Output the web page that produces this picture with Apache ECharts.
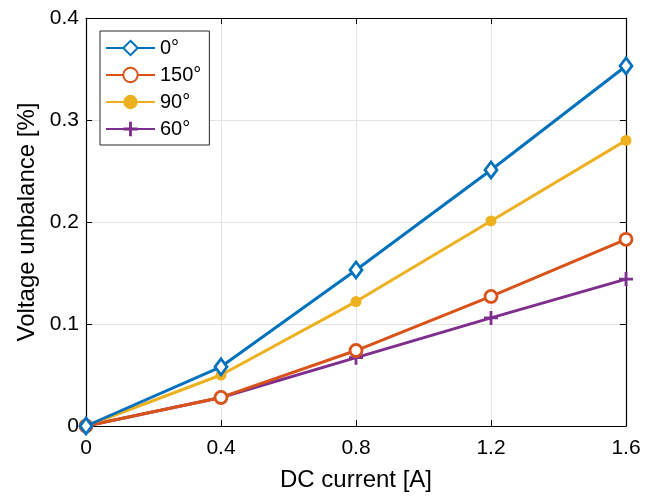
<!DOCTYPE html>
<html>
<head>
<meta charset="utf-8">
<script src="https://cdn.jsdelivr.net/npm/echarts@6/dist/echarts.min.js"></script>
<style>
  html, body { margin: 0; padding: 0; background: #fff; }
  #main { width: 649px; height: 497px; }
</style>
</head>
<body>
<div id="main"></div>
<script>
'use strict';

// DC current [A]
var current = [0, 0.4, 0.8, 1.2, 1.6];
var xTicks = ['0', '0.4', '0.8', '1.2', '1.6'];

// voltage unbalance [%] per angle
var deg0 = [0, 0.058, 0.153, 0.251, 0.353];
var deg150 = [0, 0.028, 0.074, 0.127, 0.183];
var deg90 = [0, 0.050, 0.122, 0.201, 0.280];
var deg60 = [0, 0.028, 0.067, 0.106, 0.144];

var seriesNames = ['0°', '150°', '90°', '60°'];
var seriesData = [deg0, deg150, deg90, deg60];
var colors = ['#0072BD', '#D95319', '#EDB120', '#7E2F8E'];

var plusPath = 'path://M-0.2,-1 L0.2,-1 L0.2,-0.2 L1,-0.2 L1,0.2 L0.2,0.2 L0.2,1 L-0.2,1 L-0.2,0.2 L-1,0.2 L-1,-0.2 L-0.2,-0.2 Z';

var symbols = [
  { symbol: 'diamond', size: [12, 16], hollow: true },
  { symbol: 'circle', size: 12, hollow: true },
  { symbol: 'circle', size: 11, hollow: false },
  { symbol: plusPath, size: 14, hollow: false }
];

var chart = echarts.init(document.getElementById('main'));

var font = 'Liberation Sans, Arial, Helvetica, sans-serif';

var series = [];
for (var i = 0; i < seriesNames.length; i++) {
  var pts = [];
  for (var j = 0; j < current.length; j++) {
    pts.push([current[j], seriesData[i][j]]);
  }
  var s = symbols[i];
  series.push({
    name: seriesNames[i],
    type: 'line',
    data: pts,
    symbol: s.symbol,
    symbolSize: s.size,
    showAllSymbol: true,
    animation: false,
    lineStyle: { color: colors[i], width: 3 },
    itemStyle: s.hollow ? {
      color: '#fff',
      borderColor: colors[i],
      borderWidth: 2.8,
      opacity: 1
    } : {
      color: colors[i],
      borderWidth: 0,
      opacity: 1
    },
    z: 10 - i
  });
}

var option = {
  backgroundColor: '#fff',
  animation: false,
  grid: { left: 86, right: 23, top: 18, bottom: 70, containLabel: false },
  legend: {
    left: 100,
    top: 31,
    orient: 'vertical',
    backgroundColor: '#fff',
    borderColor: '#262626',
    borderWidth: 1,
    borderRadius: 0,
    padding: [7, 8, 6, 5],
    itemGap: 7,
    itemWidth: 49,
    itemHeight: 18,
    textStyle: { fontFamily: font, fontSize: 20, color: '#000' },
    data: seriesNames
  },
  xAxis: [{
    type: 'value',
    min: 0,
    max: 1.6,
    interval: 0.4,
    name: 'DC current [A]',
    nameLocation: 'middle',
    nameGap: 42,
    nameTextStyle: { fontFamily: font, fontSize: 24, color: '#000' },
    axisLine: { show: true, onZero: false, lineStyle: { color: '#000', width: 1.2 } },
    axisTick: { show: true, inside: true, length: 6, lineStyle: { color: '#000' } },
    axisLabel: {
      fontFamily: font, fontSize: 21, color: '#000', margin: 12,
      formatter: function (v) { return xTicks[Math.round(v / 0.4)]; }
    },
    splitLine: { show: true, lineStyle: { color: '#e3e3e3', width: 1 } }
  }, {
    type: 'value',
    position: 'top',
    min: 0,
    max: 1.6,
    interval: 0.4,
    axisLine: { show: true, onZero: false, lineStyle: { color: '#000', width: 1.2 } },
    axisTick: { show: true, inside: true, length: 6, lineStyle: { color: '#000' } },
    axisLabel: { show: false },
    splitLine: { show: false }
  }],
  yAxis: [{
    type: 'value',
    min: 0,
    max: 0.4,
    interval: 0.1,
    name: 'Voltage unbalance [%]',
    nameLocation: 'middle',
    nameGap: 42,
    nameTextStyle: { fontFamily: font, fontSize: 24, color: '#000' },
    axisLine: { show: true, onZero: false, lineStyle: { color: '#000', width: 1.2 } },
    axisTick: { show: true, inside: true, length: 6, lineStyle: { color: '#000' } },
    axisLabel: { fontFamily: font, fontSize: 21, color: '#000', margin: 7 },
    splitLine: { show: true, lineStyle: { color: '#e3e3e3', width: 1 } }
  }, {
    type: 'value',
    position: 'right',
    min: 0,
    max: 0.4,
    interval: 0.1,
    axisLine: { show: true, onZero: false, lineStyle: { color: '#000', width: 1.2 } },
    axisTick: { show: true, inside: true, length: 6, lineStyle: { color: '#000' } },
    axisLabel: { show: false },
    splitLine: { show: false }
  }],
  series: series
};

chart.setOption(option);
</script>
</body>
</html>
